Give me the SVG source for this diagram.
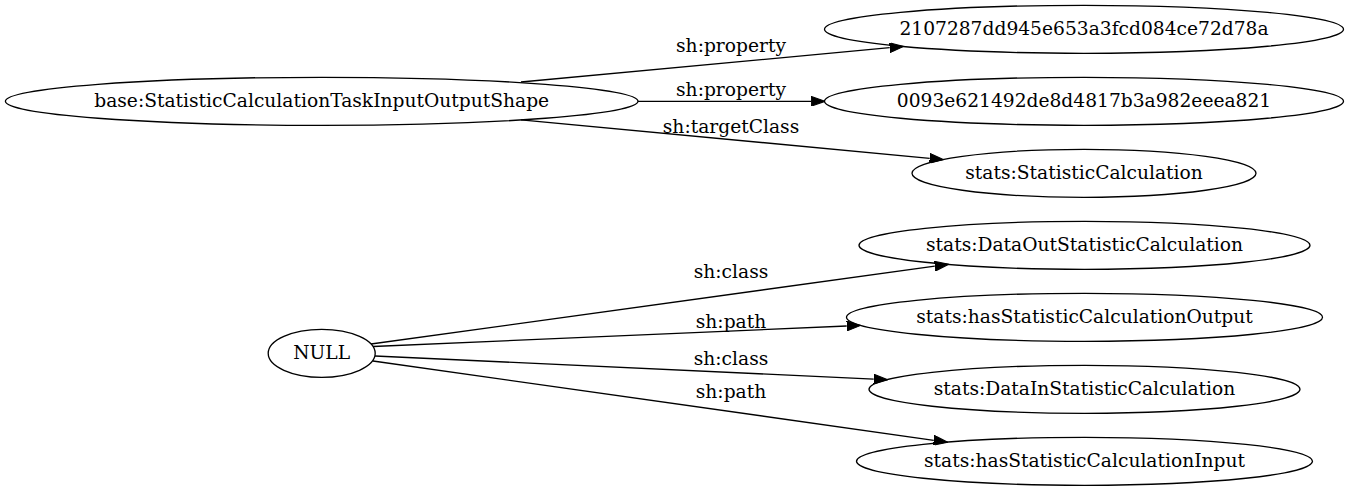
<svg xmlns="http://www.w3.org/2000/svg" width="1349" height="491" viewBox="0 0 1349 491">
<style>
.n ellipse{fill:none;stroke:#000;stroke-width:1.33}
text{font-family:"DejaVu Serif","Liberation Serif",serif;font-size:18.67px;fill:#000;text-anchor:middle}
.e path{fill:none;stroke:#000;stroke-width:1.33}
</style>
<defs>
<marker id="ah" markerUnits="userSpaceOnUse" markerWidth="14" markerHeight="10" viewBox="0 0 13.33 9.33" refX="0" refY="4.67" orient="auto">
<path d="M0,0 L13.33,4.67 L0,9.33 z" fill="#000" stroke="#000" stroke-width="1"/>
</marker>
</defs>
<rect width="1349" height="491" fill="#fff"/>
<g id="edges" class="e">
<path d="M521,82 L889.7,47.7" marker-end="url(#ah)"/>
<text x="731" y="52">sh:property</text>
<path d="M638,101.3 L811.2,101.3" marker-end="url(#ah)"/>
<text x="731" y="96">sh:property</text>
<path d="M521,119.8 L929.7,158.35" marker-end="url(#ah)"/>
<text x="731" y="133">sh:targetClass</text>
<path d="M371,344 L934.8,266.2" marker-end="url(#ah)"/>
<text x="731" y="278">sh:class</text>
<path d="M373,346.5 L846.7,326" marker-end="url(#ah)"/>
<text x="731" y="328">sh:path</text>
<path d="M375,356 L873.7,379.1" marker-end="url(#ah)"/>
<text x="731" y="365">sh:class</text>
<path d="M373,361 L933.8,440.3" marker-end="url(#ah)"/>
<text x="731" y="398">sh:path</text>
</g>
<g id="base" class="n"><ellipse cx="321.7" cy="101.3" rx="316.3" ry="24"/><text x="321.7" y="106.5">base:StatisticCalculationTaskInputOutputShape</text></g>
<g id="n2107" class="n"><ellipse cx="1084" cy="29.3" rx="259.5" ry="24"/><text x="1084" y="34.5">2107287dd945e653a3fcd084ce72d78a</text></g>
<g id="n0093" class="n"><ellipse cx="1084" cy="101.3" rx="259.5" ry="24"/><text x="1084" y="106.5">0093e621492de8d4817b3a982eeea821</text></g>
<g id="statcalc" class="n"><ellipse cx="1084" cy="173.3" rx="172" ry="24"/><text x="1084" y="178.5">stats:StatisticCalculation</text></g>
<g id="dataout" class="n"><ellipse cx="1084.5" cy="245.3" rx="225.5" ry="24"/><text x="1084.5" y="250.5">stats:DataOutStatisticCalculation</text></g>
<g id="hasoutput" class="n"><ellipse cx="1084.5" cy="317.3" rx="238" ry="24"/><text x="1084.5" y="322.5">stats:hasStatisticCalculationOutput</text></g>
<g id="datain" class="n"><ellipse cx="1084.5" cy="389.3" rx="215.5" ry="24"/><text x="1084.5" y="394.5">stats:DataInStatisticCalculation</text></g>
<g id="hasinput" class="n"><ellipse cx="1084.5" cy="461.3" rx="228" ry="24"/><text x="1084.5" y="466.5">stats:hasStatisticCalculationInput</text></g>
<g id="null" class="n"><ellipse cx="321.7" cy="353.3" rx="53.5" ry="24"/><text x="321.7" y="358.5">NULL</text></g>
</svg>
